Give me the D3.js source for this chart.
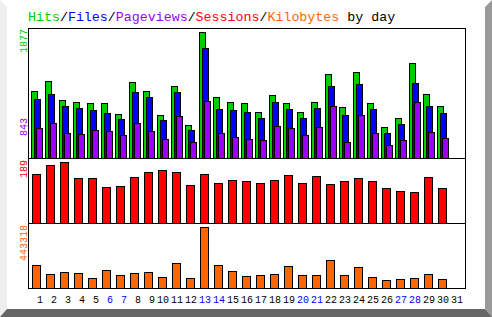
<!DOCTYPE html>
<html>
<head>
<meta charset="utf-8">
<script src="https://cdn.jsdelivr.net/npm/d3@7"></script>
<style>
  body { margin: 0; background: #fff; }
  svg { display: block; }
  text { font-family: "Liberation Mono", "DejaVu Sans Mono", monospace; }
</style>
</head>
<body>
<div id="chart"></div>
<script>
// daily stats
var days = d3.range(1, 32);
var hits      = [994,1142,859,830,815,815,651,1128,994,636,1068,487,1877,904,830,815,681,934,815,681,830,1247,755,1277,815,457,591,1411,949,770,0];
var files     = [874,949,770,740,711,666,576,979,904,562,979,413,1634,725,711,681,591,830,725,591,740,1068,636,1098,725,368,502,1113,770,666,0];
var pages     = [442,517,368,353,413,398,338,517,398,279,621,234,843,368,308,279,264,472,442,338,457,770,234,636,368,189,264,830,383,293,0];
var sessions  = [154,182,189,139,139,111,114,142,160,166,160,117,154,126,135,132,126,135,151,126,145,120,132,139,132,108,101,95,142,108,0];
var kbytes    = [165800,100000,114700,107400,70800,129300,92800,107400,114700,78100,180400,70800,443318,165800,122000,85400,92800,100000,158500,92800,92800,202300,92800,151200,78100,56200,63500,70800,100000,63500,0];
var weekends  = [6,7,13,14,20,21,27,28];

var title_parts = [
  ["Hits", "#00cc00"], ["/", "#000"], ["Files", "#0000ff"], ["/", "#000"],
  ["Pageviews", "#9900ff"], ["/", "#000"], ["Sessions", "#ff0000"], ["/", "#000"],
  ["Kilobytes", "#ff6600"], [" by day", "#000"]
];

var W = 492, H = 317,
    left = 28.5, right = 465.5,
    top1 = 28.5, bot1 = 158.5, bot2 = 223.5, bot3 = 288.5;

var svg = d3.select('#chart').append('svg').attr('width', W).attr('height', H);

// bevelled frame
var b = 7, bb = 8;
svg.append('rect').attr('width', W).attr('height', H).attr('fill', '#fff');
svg.append('polygon').attr('points', [[0,0],[b,b],[b,H-bb],[0,H]].join(' ')).attr('fill', '#eeeeee');
svg.append('polygon').attr('points', [[W,0],[W,H],[W-b,H-bb],[W-b,b]].join(' ')).attr('fill', '#999999');
svg.append('polygon').attr('points', [[0,H],[b,H-bb],[W-b,H-bb],[W,H]].join(' ')).attr('fill', '#666666');

// title
var title = svg.append('text').attr('x', 28).attr('y', 21)
  .attr('font-size', '13.3px').attr('xml:space', 'preserve');
title.selectAll('tspan').data(title_parts).enter().append('tspan')
  .attr('fill', function(d) { return d[1]; })
  .text(function(d) { return d[0]; });

var x = d3.scaleLinear().domain([1, 31]).range([31, 451]);
var yHits = d3.scaleLinear().domain([0, d3.max(hits)]).range([158, 32]);
var ySess = d3.scaleLinear().domain([0, d3.max(sessions)]).range([223, 162.3]);
var yKb   = d3.scaleLinear().domain([0, d3.max(kbytes)]).range([288, 227.3]);

function bars(vals, yScale, base, off, w, color) {
  svg.append('g').selectAll('rect').data(days.filter(function(d) { return vals[d-1] > 0; }))
    .enter().append('rect')
      .attr('x', function(d) { return x(d) + off; })
      .attr('y', function(d) { return Math.round(yScale(vals[d-1])) + 0.5; })
      .attr('width', w)
      .attr('height', function(d) { return base - Math.round(yScale(vals[d-1])); })
      .attr('fill', color)
      .attr('stroke', '#000')
      .attr('stroke-width', 1);
}

bars(hits, yHits, 158, 0.5, 6, '#00cc00');
bars(files, yHits, 158, 3.5, 6, '#0000ff');
bars(pages, yHits, 158, 5.5, 6, '#9900ff');
bars(sessions, ySess, 223, 1.5, 8, '#ff0000');
bars(kbytes, yKb, 288, 1.5, 8, '#ff6600');

// panel frames
var frame = svg.append('g').attr('stroke', '#000').attr('fill', 'none');
frame.append('rect').attr('x', left).attr('y', top1).attr('width', right - left).attr('height', bot3 - top1);
frame.append('line').attr('x1', left).attr('x2', right).attr('y1', bot1).attr('y2', bot1);
frame.append('line').attr('x1', left).attr('x2', right).attr('y1', bot2).attr('y2', bot2);

// max labels, rotated
var maxLabels = [
  [d3.max(hits), '#00cc00', 29, 'end'],
  [d3.max(pages), '#9900ff', 136, 'start'],
  [d3.max(sessions), '#ff0000', 160, 'end'],
  [d3.max(kbytes), '#ff6600', 225, 'end']
];
svg.append('g').selectAll('text').data(maxLabels).enter().append('text')
  .attr('transform', function(d) { return 'translate(26.5,' + d[2] + ') rotate(-90)'; })
  .attr('text-anchor', function(d) { return d[3]; })
  .attr('font-size', '10px')
  .attr('fill', function(d) { return d[1]; })
  .text(function(d) { return d[0]; });

// day labels
svg.append('g').selectAll('text').data(days).enter().append('text')
  .attr('x', function(d) { return x(d) + (d < 10 ? 6 : 0); })
  .attr('y', 303)
  .attr('font-size', '10px')
  .attr('fill', function(d) { return weekends.indexOf(d) >= 0 ? '#0000ff' : '#000'; })
  .text(function(d) { return d; });
</script>
</body>
</html>
